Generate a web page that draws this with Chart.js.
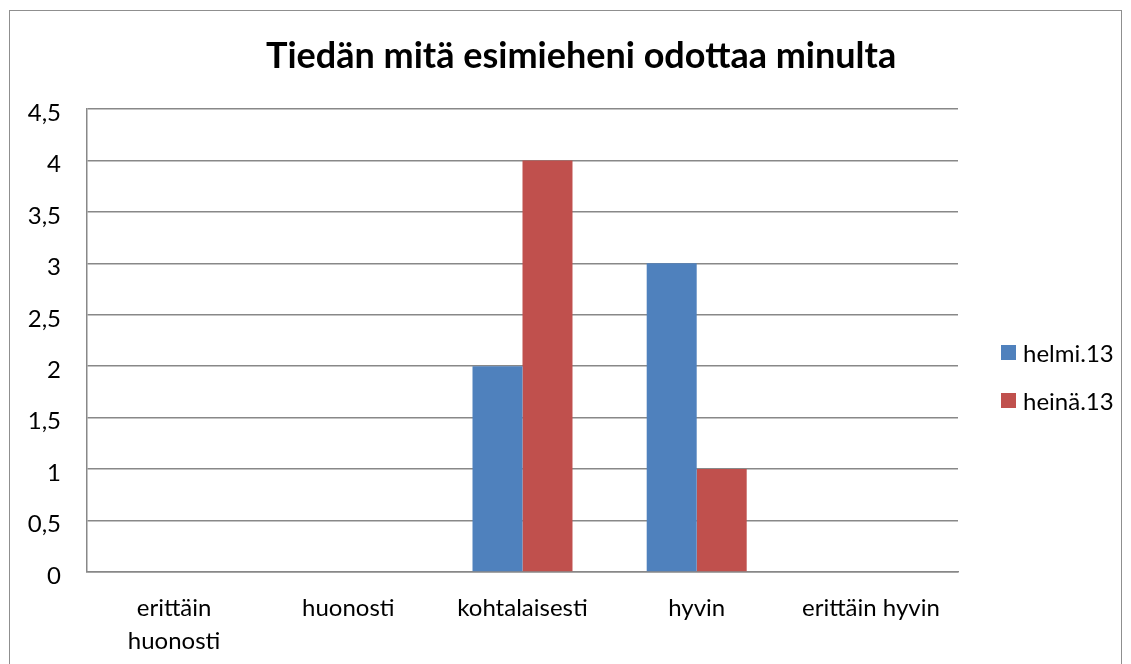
<!DOCTYPE html>
<html>
<head>
<meta charset="utf-8">
<script src="https://cdn.jsdelivr.net/npm/chart.js@4"></script>
<style>
  html, body { margin: 0; padding: 0; background: #fff; overflow: hidden; }
  #frame {
    position: absolute; left: 9px; top: 10px; width: 1113px; height: 700px;
    border: 1px solid #8f8f8f; box-sizing: border-box;
  }
  #wrap { position: absolute; left: 0; top: 0; width: 1131px; height: 664px; }
  #title {
    position: absolute; left: 266px; width: 600px; top: 32px; line-height: 44px;
    text-align: center; white-space: nowrap;
    font-family: Lato, "Noto Sans", sans-serif; font-size: 36px; font-weight: bold; color: #000;
  }
  #legend {
    position: absolute; left: 1001px; top: 328px;
    font-family: Lato, "Noto Sans", sans-serif; font-size: 24px; color: #000;
  }
  #legend div { height: 48px; display: flex; align-items: center; white-space: nowrap; }
  #legend span.box { width: 15px; height: 15px; display: inline-block; margin-right: 7px; }
</style>
</head>
<body>
<div id="frame"></div>
<div id="wrap"><canvas id="myChart" width="1131" height="664"></canvas></div>
<div id="title"></div>
<div id="legend"></div>
<script>
'use strict';

// Chart data
let chartTitle = 'Tiedän mitä esimieheni odottaa minulta';
let categories = [['erittäin', 'huonosti'], 'huonosti', 'kohtalaisesti', 'hyvin', 'erittäin hyvin'];
let seriesNames = ['helmi.13', 'heinä.13'];
let helmiValues = [0, 0, 2, 3, 0];
let heinaValues = [0, 0, 4, 1, 0];
let seriesColors = ['#4f81bd', '#c0504d'];
let yTicks = [0, 0.5, 1, 1.5, 2, 2.5, 3, 3.5, 4, 4.5];

let fontFamily = 'Lato, "Noto Sans", sans-serif';

document.querySelector('#title').textContent = chartTitle;

// legend as html
let legendBox = document.querySelector('#legend');
for (let i = 0; i < seriesNames.length; i++) {
  let row = document.createElement('div');
  let box = document.createElement('span');
  box.className = 'box';
  box.style.background = seriesColors[i];
  row.appendChild(box);
  row.appendChild(document.createTextNode(seriesNames[i]));
  legendBox.appendChild(row);
}

let ctx = document.getElementById('myChart').getContext('2d');
new Chart(ctx, {
  type: 'bar',
  data: {
    labels: categories,
    datasets: [{
      label: seriesNames[0],
      data: helmiValues,
      backgroundColor: seriesColors[0],
      categoryPercentage: 0.574,
      barPercentage: 1
    },
    {
      label: seriesNames[1],
      data: heinaValues,
      backgroundColor: seriesColors[1],
      categoryPercentage: 0.574,
      barPercentage: 1
    }]
  },
  options: {
    responsive: false,
    animation: false,
    layout: {
      padding: { left: 27, right: 173, top: 109, bottom: 0 }
    },
    plugins: {
      legend: { display: false },
      tooltip: { enabled: false },
      title: { display: false }
    },
    scales: {
      x: {
        afterFit: function (axis) { axis.height = 92; },
        grid: { display: false, drawTicks: false },
        border: { color: '#888', width: 1.5 },
        ticks: {
          color: '#000',
          font: { family: fontFamily, size: 24, lineHeight: 1.375 },
          padding: 20,
          maxRotation: 0,
          autoSkip: false
        }
      },
      y: {
        min: 0,
        max: 4.5,
        afterFit: function (axis) { axis.width = 60; },
        afterBuildTicks: function (axis) {
          axis.ticks = yTicks.map(function (v) { return { value: v }; });
        },
        grid: { color: '#888', lineWidth: 1.5, drawTicks: false },
        border: { color: '#888', width: 1.5 },
        ticks: {
          color: '#000',
          font: { family: fontFamily, size: 24 },
          padding: 26,
          labelOffset: 4,
          callback: function (value) {
            return String(value).replace('.', ',');
          }
        }
      }
    }
  }
});
</script>
</body>
</html>
